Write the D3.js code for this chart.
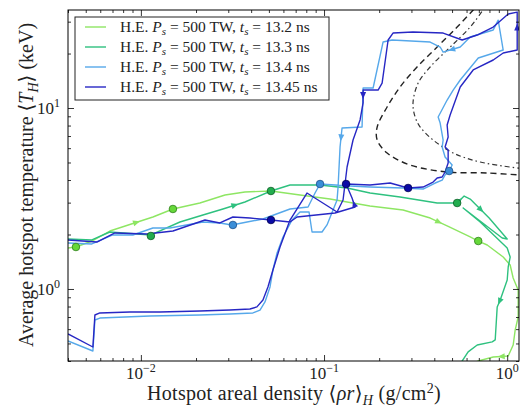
<!DOCTYPE html>
<html>
<head>
<meta charset="utf-8">
<script src="https://cdn.jsdelivr.net/npm/d3@7"></script>
<style>
  body { margin: 0; background: #fff; }
  svg { font-family: "Liberation Serif", "DejaVu Serif", serif; }
</style>
</head>
<body>
<div id="chart"></div>
<script>
// hotspot trajectories, rhoR in g/cm2, T in keV
var rho132 = [0.0040, 0.00442, 0.0054, 0.00677, 0.01163, 0.01496, 0.021, 0.0288, 0.037, 0.0513, 0.0739, 0.1078, 0.178, 0.270, 0.380, 0.470, 0.628, 0.695, 0.778, 0.951, 1.038, 1.078, 1.148, 1.148, 1.106, 1.078, 1.013, 0.839, 0.695, 0.62];
var T132   = [1.685, 1.706, 1.841, 2.091, 2.499, 2.767, 2.986, 3.306, 3.435, 3.479, 3.306, 3.142, 2.874, 2.732, 2.467, 2.229, 1.938, 1.841, 1.750, 1.502, 1.357, 1.150, 0.987, 0.700, 0.594, 0.490, 0.4265, 0.421, 0.400, 0.38];

var rho133 = [0.0040, 0.0054, 0.00677, 0.01134, 0.01634, 0.02182, 0.02806, 0.0370, 0.0513, 0.0652, 0.0951, 0.1336, 0.1783, 0.260, 0.4145, 0.533, 0.582, 0.628, 0.797, 1.0, 0.939, 0.575, 0.712, 1.0, 1.038, 1.013, 1.0, 0.916, 0.882, 0.860, 0.828, 0.686, 0.612, 0.568, 0.554];
var T133   = [1.889, 1.866, 2.065, 1.988, 2.345, 2.563, 2.767, 3.025, 3.479, 3.755, 3.755, 3.614, 3.390, 3.223, 2.986, 2.986, 3.264, 3.142, 2.467, 1.889, 1.912, 2.803, 2.345, 1.685, 1.502, 1.323, 1.121, 0.870, 0.796, 0.523, 0.510, 0.490, 0.449, 0.400, 0.380];

var rho134 = [0.0040, 0.0054, 0.00703, 0.00904, 0.01163, 0.01440, 0.02182, 0.0270, 0.0314, 0.0380, 0.0464, 0.0652, 0.0818, 0.0893, 0.0951, 0.1387, 0.1783, 0.270, 0.3475, 0.4043, 0.4415, 0.458, 0.482, 0.5006, 0.458, 0.4415, 0.447, 0.4305, 0.4198, 0.470, 0.507, 0.554, 0.695, 0.951, 0.893, 0.839, 0.628, 0.554, 0.447, 0.4305, 0.3795, 0.2352, 0.210, 0.1853, 0.1634, 0.1613, 0.1254, 0.1223, 0.1193, 0.1178, 0.1038, 0.0975, 0.0860, 0.0828, 0.0739, 0.0669, 0.0597, 0.0554, 0.0526, 0.0507, 0.0476, 0.0447, 0.0409, 0.0306, 0.0210, 0.0112, 0.00597, 0.00561, 0.00547, 0.0040];
var T134   = [1.796, 1.773, 1.988, 1.988, 2.173, 2.173, 2.345, 2.316, 2.258, 2.345, 2.436, 2.767, 2.838, 3.390, 3.802, 3.707, 3.660, 3.614, 3.568, 3.851, 4.000, 4.264, 4.486, 4.843, 5.36, 6.087, 6.655, 8.26, 8.92, 11.07, 12.57, 14.28, 18.89, 20.91, 30.6, 26.97, 24.67, 21.73, 20.38, 21.73, 23.15, 23.75, 23.15, 12.90, 12.90, 7.85, 7.75, 6.087, 3.660, 3.102, 2.258, 2.065, 2.065, 2.664, 2.664, 2.405, 1.938, 1.581, 1.274, 1.026, 0.848, 0.765, 0.737, 0.728, 0.718, 0.709, 0.691, 0.674, 0.4544, 0.516];

var rho1345 = [0.0040, 0.00575, 0.00721, 0.01078, 0.01496, 0.02238, 0.0270, 0.0318, 0.0394, 0.0513, 0.0652, 0.0712, 0.1148, 0.1477, 0.1422, 0.1319, 0.1783, 0.2295, 0.2877, 0.3475, 0.394, 0.4145, 0.4415, 0.458, 0.476, 0.476, 0.458, 0.476, 0.470, 0.488, 0.554, 0.652, 0.839, 0.951, 1.134, 1.134, 1.013, 0.839, 0.686, 0.568, 0.447, 0.306, 0.238, 0.2238, 0.2075, 0.1973, 0.1634, 0.1634, 0.1573, 0.144, 0.1336, 0.127, 0.1178, 0.0807, 0.0652, 0.0575, 0.0526, 0.0494, 0.0464, 0.0430, 0.0394, 0.0306, 0.0210, 0.0127, 0.00871, 0.00597, 0.00561, 0.00547, 0.0040];
var T1345   = [1.866, 1.818, 2.039, 2.013, 2.091, 2.405, 2.316, 2.499, 2.467, 2.405, 2.345, 2.499, 2.630, 2.838, 3.183, 3.802, 3.755, 3.851, 3.614, 3.660, 3.900, 4.104, 4.156, 4.430, 4.966, 5.861, 6.087, 6.915, 8.054, 9.148, 13.06, 16.22, 18.42, 20.13, 20.91, 33.9, 33.05, 28.03, 25.31, 23.75, 25.96, 26.30, 25.96, 23.75, 13.74, 12.57, 12.57, 10.66, 8.586, 6.655, 4.721, 3.102, 2.664, 3.390, 2.405, 1.706, 1.274, 1.026, 0.870, 0.796, 0.775, 0.765, 0.756, 0.746, 0.746, 0.737, 0.718, 0.478, 0.564];

// marked times on each trajectory
var markRho132 = [0.00442, 0.01496, 0.695],  markT132 = [1.706, 2.767, 1.841];
var markRho133 = [0.01134, 0.0513, 0.533],   markT133 = [1.963, 3.479, 2.986];
var markRho134 = [0.0318, 0.0951, 0.482],    markT134 = [2.258, 3.802, 4.486];
var markRho1345 = [0.0513, 0.1319, 0.2877],  markT1345 = [2.405, 3.802, 3.614];

// black threshold curves
var rhoDash = [0.712, 0.652, 0.533, 0.4145, 0.322, 0.260, 0.221, 0.195, 0.195, 0.221, 0.295, 0.470, 0.778, 1.178];
var TDash   = [38.5, 34.8, 28.03, 21.73, 16.85, 13.06, 10.13, 7.85, 6.655, 5.64, 4.843, 4.430, 4.375, 4.264];
var rhoDashDot = [0.80, 0.739, 0.628, 0.488, 0.3795, 0.3265, 0.306, 0.3143, 0.335, 0.394, 0.507, 0.712, 1.178];
var TDashDot   = [38.5, 34.8, 28.0, 21.7, 16.85, 13.74, 10.66, 8.92, 7.85, 6.655, 5.64, 5.03, 4.64];

var labels = ["13.2", "13.3", "13.4", "13.45"];
var xTickExp = [-2, -1, 0];
var yTickExp = [0, 1];

var margin = {top: 10, right: 3, bottom: 47, left: 68},
    totalWidth = 522,
    totalHeight = 408,
    width = totalWidth - margin.left - margin.right,
    height = totalHeight - margin.top - margin.bottom;

var series = [
  {t: labels[0], rho: rho132, T: T132, mr: markRho132, mt: markT132, color: "#8ee663", fill: "#66d83a", edge: "#2f7f1c", arrows: [4, 15, 27]},
  {t: labels[1], rho: rho133, T: T133, mr: markRho133, mt: markT133, color: "#2ec17f", fill: "#22ad4e", edge: "#0d5e26", arrows: [7, 16, 18, 28]},
  {t: labels[2], rho: rho134, T: T134, mr: markRho134, mt: markT134, color: "#56a8ea", fill: "#3b8ed8", edge: "#1b4f8a", arrows: [38, 47]},
  {t: labels[3], rho: rho1345, T: T1345, mr: markRho1345, mt: markT1345, color: "#2727c4", fill: "#0a0aa6", edge: "#00004f", arrows: [14, 35, 47]}
];

var svg = d3.select("#chart").append("svg")
    .attr("width", totalWidth)
    .attr("height", totalHeight);

var g = svg.append("g")
    .attr("transform", "translate(" + margin.left + "," + margin.top + ")");

var x = d3.scaleLog().domain([0.004, 1.16]).range([0, width]);
var y = d3.scaleLog().domain([0.4, 34.8]).range([height, 0]);

g.append("clipPath").attr("id", "clip")
  .append("rect").attr("width", width).attr("height", height);

var plot = g.append("g").attr("clip-path", "url(#clip)");

var line = d3.line().x(d => x(d[0])).y(d => y(d[1]));
var smooth = d3.line().x(d => x(d[0])).y(d => y(d[1])).curve(d3.curveCatmullRom);

plot.append("path")
    .datum(d3.zip(rhoDash, TDash))
    .attr("d", smooth)
    .attr("fill", "none")
    .attr("stroke", "#222")
    .attr("stroke-width", 1.4)
    .attr("stroke-dasharray", "6,4");

plot.append("path")
    .datum(d3.zip(rhoDashDot, TDashDot))
    .attr("d", smooth)
    .attr("fill", "none")
    .attr("stroke", "#333")
    .attr("stroke-width", 1.2)
    .attr("stroke-dasharray", "5,3,1.5,3");

series.forEach(s => {
  plot.append("path")
      .datum(d3.zip(s.rho, s.T))
      .attr("d", line)
      .attr("fill", "none")
      .attr("stroke", s.color)
      .attr("stroke-width", 1.4)
      .attr("stroke-linejoin", "round");

  // little direction arrows along the path
  s.arrows.forEach(i => {
    var x0 = x(s.rho[i - 1]), y0 = y(s.T[i - 1]),
        x1 = x(s.rho[i]), y1 = y(s.T[i]);
    var px = x0 + (x1 - x0) * 0.7, py = y0 + (y1 - y0) * 0.7;
    var a = Math.atan2(y1 - y0, x1 - x0) * 180 / Math.PI;
    plot.append("path")
        .attr("d", "M0,0L-7,-3L-7,3Z")
        .attr("transform", "translate(" + px + "," + py + ") rotate(" + a + ")")
        .attr("fill", s.color);
  });
});

series.forEach(s => {
  plot.selectAll(null)
      .data(d3.zip(s.mr, s.mt))
      .enter()
      .append("circle")
      .attr("cx", d => x(d[0]))
      .attr("cy", d => y(d[1]))
      .attr("r", 3.8)
      .attr("fill", s.fill)
      .attr("stroke", s.edge)
      .attr("stroke-width", 0.8);
});

// ticks on all four sides, pointing in
var xMajor = xTickExp.map(e => Math.pow(10, e));
var yMajor = yTickExp.map(e => Math.pow(10, e));
var xMinor = x.ticks().filter(v => xMajor.indexOf(v) < 0);
var yMinor = y.ticks().filter(v => yMajor.indexOf(v) < 0);

function tickAxis(axis, vals, size, tr) {
  var a = g.append("g")
      .attr("transform", tr)
      .call(axis.tickValues(vals).tickSize(-size).tickFormat(""));
  a.select(".domain").remove();
  a.selectAll("line").attr("stroke", "#000").attr("stroke-width", 0.8);
}
tickAxis(d3.axisBottom(x), xMajor, 6, "translate(0," + height + ")");
tickAxis(d3.axisBottom(x), xMinor, 3, "translate(0," + height + ")");
tickAxis(d3.axisTop(x), xMajor, 6, "translate(0,0)");
tickAxis(d3.axisTop(x), xMinor, 3, "translate(0,0)");
tickAxis(d3.axisLeft(y), yMajor, 6, "translate(0,0)");
tickAxis(d3.axisLeft(y), yMinor, 3, "translate(0,0)");
tickAxis(d3.axisRight(y), yMajor, 6, "translate(" + width + ",0)");
tickAxis(d3.axisRight(y), yMinor, 3, "translate(" + width + ",0)");

g.append("rect")
    .attr("width", width)
    .attr("height", height)
    .attr("fill", "none")
    .attr("stroke", "#000")
    .attr("stroke-width", 1);

// tick labels as 10^n
xTickExp.forEach(e => {
  var t = g.append("text")
      .attr("x", x(Math.pow(10, e)))
      .attr("y", height + 18)
      .attr("text-anchor", "middle")
      .style("font-size", "17px")
      .style("fill", "#222");
  t.append("tspan").text("10");
  t.append("tspan").attr("dy", -7).style("font-size", "12px")
      .text(e < 0 ? "\u2212" + (-e) : e);
});

yTickExp.forEach(e => {
  var t = g.append("text")
      .attr("x", -8)
      .attr("y", y(Math.pow(10, e)) + 6)
      .attr("text-anchor", "end")
      .style("font-size", "17px")
      .style("fill", "#222");
  t.append("tspan").text("10");
  t.append("tspan").attr("dy", -7).style("font-size", "12px").text(e);
});

// axis titles
var xl = svg.append("text")
    .attr("x", margin.left + 226)
    .attr("y", 400)
    .attr("text-anchor", "middle")
    .style("font-size", "20px")
    .style("letter-spacing", "0.3px")
    .style("fill", "#222");
xl.append("tspan").text("Hotspot areal density \u27E8");
xl.append("tspan").style("font-style", "italic").text("\u03C1r");
xl.append("tspan").text("\u27E9");
xl.append("tspan").attr("dy", 5).style("font-size", "14px").style("font-style", "italic").text("H");
xl.append("tspan").attr("dy", -5).text(" (g/cm");
xl.append("tspan").attr("dy", -7).style("font-size", "14px").text("2");
xl.append("tspan").attr("dy", 7).text(")");

var yl = svg.append("text")
    .attr("transform", "translate(33," + 185 + ") rotate(-90)")
    .attr("text-anchor", "middle")
    .style("font-size", "20px")
    .style("fill", "#222");
yl.append("tspan").text("Average hotspot temperature \u27E8");
yl.append("tspan").style("font-style", "italic").text("T");
yl.append("tspan").attr("dy", 5).style("font-size", "14px").style("font-style", "italic").text("H");
yl.append("tspan").attr("dy", -5).text("\u27E9 (keV)");

// legend
var leg = g.append("g").attr("transform", "translate(7,7)");
leg.append("rect")
    .attr("width", 254)
    .attr("height", 83)
    .attr("fill", "#fff")
    .attr("stroke", "#222")
    .attr("stroke-width", 1);

series.forEach((s, i) => {
  var row = leg.append("g").attr("transform", "translate(0," + (10 + i * 20) + ")");
  row.append("line")
      .attr("x1", 10).attr("x2", 31)
      .attr("stroke", s.color)
      .attr("stroke-width", 1.4);
  var t = row.append("text")
      .attr("x", 45)
      .attr("y", 5)
      .style("font-size", "15.5px")
      .style("fill", "#222");
  t.append("tspan").text("H.E. ");
  t.append("tspan").style("font-style", "italic").text("P");
  t.append("tspan").attr("dy", 3).style("font-size", "11px").style("font-style", "italic").text("s");
  t.append("tspan").attr("dy", -3).text(" = 500 TW, ");
  t.append("tspan").style("font-style", "italic").text("t");
  t.append("tspan").attr("dy", 3).style("font-size", "11px").style("font-style", "italic").text("s");
  t.append("tspan").attr("dy", -3).text(" = " + s.t + " ns");
});
</script>
</body>
</html>
